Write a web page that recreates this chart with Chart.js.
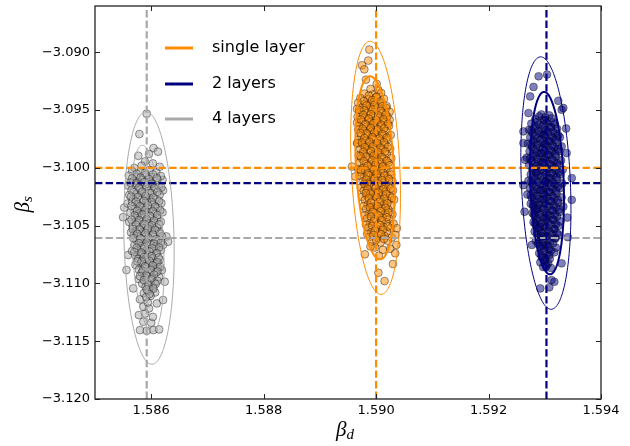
<!DOCTYPE html>
<html>
<head>
<meta charset="utf-8">
<title>beta_d vs beta_s</title>
<script src="https://cdn.jsdelivr.net/npm/chart.js@4.4.1/dist/chart.umd.min.js"></script>
<style>
  html, body { margin: 0; padding: 0; background: #fff; }
  canvas { display: block; }
</style>
</head>
<body>
<canvas id="beta-chart" width="630" height="446"></canvas>
<script>
// axis limits and ticks
const betaDMin = 1.585;
const betaDMax = 1.594;
const betaDStep = 0.002;
const betaSMin = -3.120;
const betaSMax = -3.086;
const betaSStep = 0.005;

const layerLabels = ["single layer", "2 layers", "4 layers"];

// input (true) values, drawn as dashed lines
const refBetaD = [1.59000, 1.59303, 1.58592];
const refBetaS = [-3.10000, -3.10133, -3.10607];

// confidence ellipses: layer index, centre, half extents and shear (data units)
const ellLayer = [2, 2, 0, 0, 1, 1];
const ellCenterD = [1.58596, 1.58593, 1.58999, 1.58998, 1.59302, 1.59304];
const ellCenterS = [-3.10607, -3.10611, -3.10000, -3.10000, -3.10132, -3.10132];
const ellHalfD = [0.000445, 0.000285, 0.000432, 0.000338, 0.000436, 0.000297];
const ellHalfS = [0.01092, 0.00806, 0.01095, 0.00792, 0.01092, 0.00789];
const ellShearD = [-0.000052, -0.000089, -0.000098, -0.000089, -0.000093, -0.000052];
const ellInner = [false, true, false, true, false, true];

// fitted samples [beta_d, beta_s]
const singleLayerFits = [
  [1.58988,-3.08977],[1.58986,-3.09072],[1.58975,-3.09113],[1.58979,-3.09148],[1.58982,-3.09237],[1.59001,-3.09274],
  [1.59019,-3.09468],[1.59024,-3.09584],[1.58966,-3.09786],[1.58957,-3.09989],[1.58963,-3.10075],
  [1.58990,-3.09318],[1.59004,-3.09327],
  [1.58979,-3.09358],[1.58994,-3.09366],[1.59009,-3.09352],
  [1.58972,-3.09397],[1.58986,-3.09406],[1.59000,-3.09391],[1.59014,-3.09403],
  [1.58968,-3.09438],[1.58981,-3.09446],[1.58996,-3.09432],[1.59010,-3.09445],[1.58989,-3.09452],
  [1.58975,-3.09478],[1.58990,-3.09486],[1.59004,-3.09471],[1.59018,-3.09483],[1.58966,-3.09491],
  [1.58971,-3.09518],[1.58985,-3.09526],[1.58998,-3.09512],[1.59012,-3.09524],[1.59024,-3.09516],
  [1.58967,-3.09559],[1.58980,-3.09566],[1.58994,-3.09551],[1.59007,-3.09563],[1.58987,-3.09574],[1.59020,-3.09557],
  [1.58974,-3.09598],[1.58989,-3.09606],[1.59002,-3.09592],[1.59015,-3.09603],[1.58966,-3.09611],
  [1.58970,-3.09638],[1.58983,-3.09646],[1.58997,-3.09631],[1.59010,-3.09644],[1.59023,-3.09636],[1.58991,-3.09652],
  [1.58977,-3.09678],[1.58992,-3.09686],[1.59005,-3.09671],[1.59017,-3.09683],[1.58968,-3.09669],
  [1.58973,-3.09718],[1.58986,-3.09726],[1.59000,-3.09711],[1.59013,-3.09724],[1.59026,-3.09716],[1.58994,-3.09732],
  [1.58969,-3.09758],[1.58981,-3.09766],[1.58995,-3.09751],[1.59008,-3.09763],[1.59020,-3.09755],
  [1.58976,-3.09798],[1.58990,-3.09806],[1.59003,-3.09791],[1.59016,-3.09803],[1.58984,-3.09812],[1.58967,-3.09788],
  [1.58972,-3.09838],[1.58986,-3.09846],[1.58999,-3.09831],[1.59012,-3.09844],[1.59025,-3.09836],
  [1.58978,-3.09878],[1.58993,-3.09886],[1.59006,-3.09871],[1.59019,-3.09883],[1.58969,-3.09892],[1.58999,-3.09895],
  [1.58974,-3.09918],[1.58988,-3.09926],[1.59001,-3.09911],[1.59014,-3.09924],[1.59027,-3.09915],
  [1.58970,-3.09958],[1.58983,-3.09966],[1.58997,-3.09951],[1.59010,-3.09963],[1.59022,-3.09956],[1.58991,-3.09972],
  [1.58977,-3.09998],[1.58991,-3.10006],[1.59005,-3.09991],[1.59018,-3.10003],[1.58968,-3.10011],
  [1.58973,-3.10038],[1.58987,-3.10046],[1.59000,-3.10031],[1.59013,-3.10044],[1.59026,-3.10035],[1.58995,-3.10053],
  [1.58979,-3.10078],[1.58994,-3.10086],[1.59008,-3.10071],[1.59021,-3.10083],[1.58971,-3.10069],
  [1.58976,-3.10118],[1.58990,-3.10126],[1.59003,-3.10111],[1.59016,-3.10124],[1.59029,-3.10115],[1.58984,-3.10132],
  [1.58981,-3.10158],[1.58996,-3.10166],[1.59010,-3.10151],[1.59022,-3.10163],[1.58973,-3.10171],
  [1.58978,-3.10198],[1.58992,-3.10206],[1.59005,-3.10191],[1.59018,-3.10203],[1.59030,-3.10196],[1.58999,-3.10212],
  [1.58983,-3.10238],[1.58998,-3.10246],[1.59012,-3.10231],[1.59025,-3.10243],[1.58975,-3.10251],
  [1.58980,-3.10278],[1.58994,-3.10286],[1.59007,-3.10271],[1.59020,-3.10284],[1.59032,-3.10275],
  [1.58985,-3.10318],[1.59000,-3.10326],[1.59014,-3.10311],[1.59027,-3.10323],[1.58978,-3.10331],[1.58993,-3.10337],
  [1.58982,-3.10358],[1.58996,-3.10366],[1.59009,-3.10351],[1.59022,-3.10363],
  [1.58987,-3.10398],[1.59002,-3.10406],[1.59016,-3.10391],[1.59029,-3.10403],[1.58980,-3.10411],
  [1.58984,-3.10438],[1.58998,-3.10446],[1.59011,-3.10431],[1.59024,-3.10444],
  [1.58989,-3.10478],[1.59004,-3.10486],[1.59018,-3.10471],[1.59031,-3.10483],[1.58982,-3.10491],
  [1.58986,-3.10518],[1.59000,-3.10526],[1.59013,-3.10511],[1.59026,-3.10523],
  [1.58991,-3.10558],[1.59006,-3.10566],[1.59019,-3.10551],[1.58984,-3.10571],
  [1.58988,-3.10598],[1.59002,-3.10606],[1.59015,-3.10591],[1.59028,-3.10603],
  [1.58993,-3.10638],[1.59008,-3.10646],[1.59021,-3.10631],
  [1.59037,-3.10523],[1.59034,-3.10581],[1.59036,-3.10667],[1.58998,-3.10690],[1.59012,-3.10710],[1.58990,-3.10680],
  [1.59025,-3.10700],[1.59005,-3.10760],[1.58980,-3.10748],[1.59034,-3.10739],[1.59030,-3.10832],[1.59004,-3.10908],
  [1.59015,-3.10980],
  [1.58987,-3.09376],[1.59001,-3.09385],
  [1.58978,-3.09422],[1.58993,-3.09413],[1.59007,-3.09427],
  [1.58983,-3.09461],[1.58997,-3.09455],[1.59011,-3.09467],
  [1.58979,-3.09502],[1.58994,-3.09495],[1.59008,-3.09507],[1.58970,-3.09499],
  [1.58977,-3.09542],[1.58991,-3.09535],[1.59004,-3.09547],[1.59017,-3.09539],
  [1.58973,-3.09582],[1.58987,-3.09575],[1.59001,-3.09587],[1.59013,-3.09579],
  [1.58981,-3.09622],[1.58995,-3.09615],[1.59009,-3.09627],[1.59021,-3.09619],
  [1.58976,-3.09662],[1.58990,-3.09655],[1.59003,-3.09667],[1.59014,-3.09659],
  [1.58983,-3.09702],[1.58997,-3.09695],[1.59011,-3.09707],[1.58972,-3.09699],
  [1.58979,-3.09742],[1.58993,-3.09735],[1.59006,-3.09747],[1.59019,-3.09739],
  [1.58975,-3.09782],[1.58988,-3.09775],[1.59002,-3.09787],[1.59014,-3.09779],
  [1.58980,-3.09822],[1.58994,-3.09815],[1.59008,-3.09827],[1.59021,-3.09819],
  [1.58977,-3.09862],[1.58991,-3.09855],[1.59004,-3.09867],[1.59016,-3.09859],
  [1.58982,-3.09902],[1.58996,-3.09895],[1.59010,-3.09907],[1.58972,-3.09899],
  [1.58978,-3.09942],[1.58993,-3.09935],[1.59006,-3.09947],[1.59019,-3.09939],
  [1.58985,-3.09982],[1.58999,-3.09975],[1.59012,-3.09987],[1.59024,-3.09979],
  [1.58981,-3.10022],[1.58996,-3.10015],[1.59009,-3.10027],[1.58973,-3.10019],
  [1.58986,-3.10062],[1.59001,-3.10055],[1.59015,-3.10067],[1.59027,-3.10059],
  [1.58983,-3.10102],[1.58997,-3.10095],[1.59011,-3.10107],[1.59023,-3.10099],
  [1.58988,-3.10142],[1.59003,-3.10135],[1.59017,-3.10147],[1.58979,-3.10139],
  [1.58985,-3.10182],[1.58999,-3.10175],[1.59013,-3.10187],[1.59026,-3.10179],
  [1.58990,-3.10222],[1.59004,-3.10215],[1.59018,-3.10227],[1.58982,-3.10219],
  [1.58987,-3.10262],[1.59001,-3.10255],[1.59015,-3.10267],[1.59028,-3.10259],
  [1.58991,-3.10302],[1.59006,-3.10295],[1.59020,-3.10307],
  [1.58989,-3.10342],[1.59003,-3.10335],[1.59017,-3.10347],
  [1.58994,-3.10382],[1.59008,-3.10375],[1.59022,-3.10387],
  [1.58991,-3.10422],[1.59005,-3.10415],[1.59019,-3.10427],
  [1.58996,-3.10462],[1.59010,-3.10455],
  [1.58993,-3.10502],[1.59007,-3.10495],[1.59021,-3.10507],
  [1.58998,-3.10542],[1.59012,-3.10535],
  [1.58995,-3.10582],[1.59009,-3.10575],
  [1.59000,-3.10622],[1.59014,-3.10615]
];

const twoLayerFits = [
  [1.59289,-3.09208],[1.59304,-3.09193],[1.59280,-3.09300],[1.59274,-3.09382],[1.59324,-3.09420],[1.59333,-3.09482],
  [1.59271,-3.09526],[1.59330,-3.09497],[1.59338,-3.09660],[1.59262,-3.09685],[1.59262,-3.09786],[1.59339,-3.09872],
  [1.59265,-3.09930],[1.59348,-3.10089],[1.59262,-3.10150],[1.59348,-3.10277],[1.59264,-3.10380],[1.59340,-3.10430],
  [1.59341,-3.10600],[1.59277,-3.10667],[1.59330,-3.10826],[1.59302,-3.10856],[1.59312,-3.10971],[1.59317,-3.10986],
  [1.59308,-3.11034],[1.59292,-3.11043],
  [1.59294,-3.09538],[1.59308,-3.09546],
  [1.59283,-3.09578],[1.59298,-3.09586],[1.59312,-3.09572],
  [1.59276,-3.09618],[1.59290,-3.09626],[1.59304,-3.09611],[1.59318,-3.09623],
  [1.59281,-3.09658],[1.59295,-3.09666],[1.59309,-3.09651],[1.59322,-3.09663],[1.59272,-3.09671],
  [1.59278,-3.09698],[1.59292,-3.09706],[1.59305,-3.09691],[1.59318,-3.09703],[1.59299,-3.09712],
  [1.59274,-3.09738],[1.59287,-3.09746],[1.59301,-3.09731],[1.59314,-3.09743],[1.59327,-3.09735],
  [1.59280,-3.09778],[1.59294,-3.09786],[1.59308,-3.09771],[1.59321,-3.09783],[1.59270,-3.09791],[1.59301,-3.09794],
  [1.59277,-3.09818],[1.59291,-3.09826],[1.59304,-3.09811],[1.59317,-3.09823],[1.59330,-3.09815],
  [1.59273,-3.09858],[1.59286,-3.09866],[1.59300,-3.09851],[1.59313,-3.09863],[1.59326,-3.09856],[1.59295,-3.09872],
  [1.59279,-3.09898],[1.59293,-3.09906],[1.59307,-3.09891],[1.59320,-3.09903],[1.59268,-3.09911],
  [1.59276,-3.09938],[1.59289,-3.09946],[1.59303,-3.09931],[1.59316,-3.09943],[1.59329,-3.09936],[1.59297,-3.09952],
  [1.59272,-3.09978],[1.59285,-3.09986],[1.59299,-3.09971],[1.59312,-3.09983],[1.59325,-3.09975],
  [1.59278,-3.10018],[1.59292,-3.10026],[1.59306,-3.10011],[1.59319,-3.10023],[1.59332,-3.10015],[1.59284,-3.10034],
  [1.59275,-3.10058],[1.59288,-3.10066],[1.59302,-3.10051],[1.59315,-3.10063],[1.59328,-3.10056],
  [1.59281,-3.10098],[1.59295,-3.10106],[1.59309,-3.10091],[1.59322,-3.10103],[1.59271,-3.10111],[1.59302,-3.10114],
  [1.59278,-3.10138],[1.59292,-3.10146],[1.59305,-3.10131],[1.59318,-3.10143],[1.59331,-3.10135],
  [1.59274,-3.10178],[1.59287,-3.10186],[1.59301,-3.10171],[1.59314,-3.10183],[1.59327,-3.10176],[1.59296,-3.10192],
  [1.59280,-3.10218],[1.59294,-3.10226],[1.59308,-3.10211],[1.59321,-3.10223],[1.59269,-3.10231],
  [1.59277,-3.10258],[1.59290,-3.10266],[1.59304,-3.10251],[1.59317,-3.10263],[1.59330,-3.10255],[1.59298,-3.10272],
  [1.59283,-3.10298],[1.59297,-3.10306],[1.59311,-3.10291],[1.59324,-3.10303],[1.59275,-3.10311],
  [1.59280,-3.10338],[1.59294,-3.10346],[1.59307,-3.10331],[1.59320,-3.10343],[1.59333,-3.10335],[1.59287,-3.10352],
  [1.59285,-3.10378],[1.59299,-3.10386],[1.59313,-3.10371],[1.59326,-3.10383],[1.59278,-3.10391],
  [1.59282,-3.10418],[1.59296,-3.10426],[1.59309,-3.10411],[1.59322,-3.10423],[1.59303,-3.10432],
  [1.59287,-3.10458],[1.59301,-3.10466],[1.59315,-3.10451],[1.59328,-3.10463],[1.59280,-3.10471],
  [1.59284,-3.10498],[1.59298,-3.10506],[1.59311,-3.10491],[1.59324,-3.10503],[1.59291,-3.10512],
  [1.59289,-3.10538],[1.59303,-3.10546],[1.59317,-3.10531],[1.59282,-3.10551],
  [1.59286,-3.10578],[1.59300,-3.10586],[1.59313,-3.10571],[1.59326,-3.10583],[1.59294,-3.10592],
  [1.59291,-3.10618],[1.59305,-3.10626],[1.59319,-3.10611],[1.59284,-3.10631],
  [1.59288,-3.10658],[1.59302,-3.10666],[1.59315,-3.10651],[1.59296,-3.10672],
  [1.59293,-3.10698],[1.59307,-3.10706],[1.59320,-3.10691],
  [1.59290,-3.10738],[1.59304,-3.10746],[1.59317,-3.10731],
  [1.59295,-3.10778],[1.59309,-3.10786],[1.59301,-3.10792],
  [1.59292,-3.10818],[1.59306,-3.10826],
  [1.59297,-3.10858],[1.59311,-3.10866],
  [1.59301,-3.09562],[1.59290,-3.09555],
  [1.59287,-3.09602],[1.59301,-3.09595],[1.59315,-3.09607],
  [1.59283,-3.09642],[1.59297,-3.09635],[1.59311,-3.09647],
  [1.59288,-3.09682],[1.59302,-3.09675],[1.59315,-3.09687],[1.59276,-3.09679],
  [1.59284,-3.09722],[1.59298,-3.09715],[1.59312,-3.09727],[1.59324,-3.09719],
  [1.59280,-3.09762],[1.59294,-3.09755],[1.59307,-3.09767],[1.59319,-3.09759],
  [1.59286,-3.09802],[1.59300,-3.09795],[1.59314,-3.09807],[1.59276,-3.09799],
  [1.59283,-3.09842],[1.59297,-3.09835],[1.59311,-3.09847],[1.59324,-3.09839],
  [1.59280,-3.09882],[1.59293,-3.09875],[1.59306,-3.09887],[1.59319,-3.09879],
  [1.59286,-3.09922],[1.59300,-3.09915],[1.59313,-3.09927],[1.59274,-3.09919],
  [1.59282,-3.09962],[1.59296,-3.09955],[1.59309,-3.09967],[1.59322,-3.09959],
  [1.59279,-3.10002],[1.59292,-3.09995],[1.59305,-3.10007],[1.59318,-3.09999],
  [1.59285,-3.10042],[1.59299,-3.10035],[1.59312,-3.10047],[1.59325,-3.10039],
  [1.59281,-3.10082],[1.59295,-3.10075],[1.59308,-3.10087],[1.59321,-3.10079],
  [1.59287,-3.10122],[1.59301,-3.10115],[1.59315,-3.10127],[1.59276,-3.10119],
  [1.59284,-3.10162],[1.59298,-3.10155],[1.59311,-3.10167],[1.59324,-3.10159],
  [1.59280,-3.10202],[1.59293,-3.10195],[1.59307,-3.10207],[1.59320,-3.10199],
  [1.59286,-3.10242],[1.59300,-3.10235],[1.59314,-3.10247],[1.59275,-3.10239],
  [1.59283,-3.10282],[1.59297,-3.10275],[1.59310,-3.10287],[1.59323,-3.10279],
  [1.59288,-3.10322],[1.59302,-3.10315],[1.59316,-3.10327],[1.59279,-3.10319],
  [1.59285,-3.10362],[1.59299,-3.10355],[1.59313,-3.10367],[1.59326,-3.10359],
  [1.59290,-3.10402],[1.59304,-3.10395],[1.59318,-3.10407],[1.59281,-3.10399],
  [1.59287,-3.10442],[1.59301,-3.10435],[1.59315,-3.10447],
  [1.59292,-3.10482],[1.59306,-3.10475],[1.59320,-3.10487],[1.59283,-3.10479],
  [1.59289,-3.10522],[1.59303,-3.10515],[1.59317,-3.10527],
  [1.59294,-3.10562],[1.59308,-3.10555],[1.59322,-3.10567],
  [1.59291,-3.10602],[1.59305,-3.10595],[1.59318,-3.10607],
  [1.59296,-3.10642],[1.59310,-3.10635],
  [1.59292,-3.10682],[1.59306,-3.10675],
  [1.59298,-3.10722],[1.59311,-3.10715],
  [1.59294,-3.10762],[1.59308,-3.10755],
  [1.59300,-3.10802],[1.59303,-3.10842]
];

const fourLayerFits = [
  [1.58592,-3.09532],[1.58579,-3.09708],[1.58604,-3.09829],[1.58596,-3.09881],[1.58577,-3.09896],[1.58612,-3.09860],
  [1.58589,-3.09945],[1.58583,-3.09982],[1.58603,-3.09962],[1.58570,-3.10001],[1.58615,-3.09991],
  [1.58552,-3.10344],[1.58550,-3.10427],[1.58620,-3.10104],[1.58627,-3.10594],[1.58630,-3.10639],[1.58559,-3.10754],
  [1.58556,-3.10884],[1.58619,-3.10884],[1.58568,-3.11043],[1.58624,-3.10985],
  [1.58580,-3.11404],[1.58592,-3.11410],[1.58604,-3.11404],[1.58614,-3.11398],[1.58586,-3.11332],[1.58600,-3.11341],
  [1.58578,-3.11274],[1.58589,-3.11260],[1.58586,-3.11202],[1.58596,-3.11216],[1.58610,-3.11173],[1.58580,-3.11138],
  [1.58621,-3.11144],[1.58603,-3.11290],[1.58594,-3.11165],
  [1.58566,-3.10028],[1.58581,-3.10035],[1.58597,-3.10019],[1.58609,-3.10041],
  [1.58560,-3.10069],[1.58574,-3.10078],[1.58590,-3.10062],[1.58604,-3.10083],[1.58617,-3.10071],
  [1.58568,-3.10115],[1.58584,-3.10107],[1.58598,-3.10121],[1.58611,-3.10102],[1.58577,-3.10126],
  [1.58559,-3.10153],[1.58572,-3.10146],[1.58588,-3.10158],[1.58602,-3.10141],[1.58614,-3.10162],[1.58594,-3.10135],
  [1.58565,-3.10194],[1.58580,-3.10186],[1.58595,-3.10199],[1.58608,-3.10181],[1.58621,-3.10196],
  [1.58561,-3.10235],[1.58574,-3.10224],[1.58589,-3.10238],[1.58601,-3.10221],[1.58615,-3.10232],[1.58583,-3.10214],
  [1.58568,-3.10268],[1.58582,-3.10279],[1.58596,-3.10262],[1.58610,-3.10274],[1.58592,-3.10285],
  [1.58558,-3.10309],[1.58575,-3.10316],[1.58590,-3.10301],[1.58604,-3.10318],[1.58618,-3.10305],[1.58566,-3.10296],
  [1.58571,-3.10354],[1.58585,-3.10342],[1.58599,-3.10357],[1.58612,-3.10346],[1.58579,-3.10363],
  [1.58563,-3.10388],[1.58578,-3.10397],[1.58593,-3.10382],[1.58607,-3.10394],[1.58620,-3.10385],[1.58587,-3.10402],
  [1.58569,-3.10428],[1.58584,-3.10436],[1.58598,-3.10421],[1.58611,-3.10439],[1.58575,-3.10418],
  [1.58561,-3.10469],[1.58576,-3.10476],[1.58591,-3.10462],[1.58605,-3.10478],[1.58617,-3.10466],[1.58596,-3.10484],
  [1.58567,-3.10508],[1.58582,-3.10517],[1.58597,-3.10503],[1.58610,-3.10515],[1.58588,-3.10522],
  [1.58572,-3.10548],[1.58586,-3.10556],[1.58601,-3.10541],[1.58614,-3.10553],[1.58564,-3.10560],[1.58593,-3.10537],
  [1.58577,-3.10589],[1.58590,-3.10597],[1.58604,-3.10584],[1.58619,-3.10593],[1.58569,-3.10581],
  [1.58574,-3.10628],[1.58588,-3.10636],[1.58600,-3.10622],[1.58612,-3.10639],[1.58581,-3.10645],[1.58595,-3.10618],
  [1.58570,-3.10668],[1.58584,-3.10676],[1.58598,-3.10662],[1.58609,-3.10679],[1.58621,-3.10667],
  [1.58576,-3.10709],[1.58591,-3.10716],[1.58605,-3.10703],[1.58617,-3.10714],[1.58583,-3.10698],[1.58566,-3.10720],
  [1.58580,-3.10748],[1.58594,-3.10756],[1.58608,-3.10742],[1.58573,-3.10761],[1.58600,-3.10764],
  [1.58577,-3.10789],[1.58590,-3.10796],[1.58603,-3.10782],[1.58615,-3.10793],[1.58584,-3.10803],
  [1.58581,-3.10828],[1.58596,-3.10836],[1.58609,-3.10822],[1.58572,-3.10840],[1.58602,-3.10845],
  [1.58586,-3.10869],[1.58599,-3.10876],[1.58612,-3.10862],[1.58578,-3.10881],
  [1.58583,-3.10908],[1.58597,-3.10916],[1.58609,-3.10903],[1.58591,-3.10925],
  [1.58588,-3.10949],[1.58601,-3.10956],[1.58578,-3.10962],[1.58614,-3.10944],
  [1.58593,-3.10988],[1.58606,-3.10996],[1.58584,-3.11003],
  [1.58590,-3.11029],[1.58603,-3.11036],[1.58596,-3.11048],
  [1.58594,-3.11069],[1.58607,-3.11078],[1.58587,-3.11085],
  [1.58599,-3.11108],[1.58591,-3.11118],
  [1.58574,-3.10052],[1.58589,-3.10045],[1.58603,-3.10057],
  [1.58566,-3.10092],[1.58581,-3.10085],[1.58596,-3.10097],[1.58610,-3.10089],
  [1.58573,-3.10132],[1.58587,-3.10125],[1.58601,-3.10137],[1.58563,-3.10129],
  [1.58578,-3.10172],[1.58592,-3.10165],[1.58606,-3.10177],[1.58618,-3.10169],
  [1.58569,-3.10212],[1.58584,-3.10205],[1.58598,-3.10217],[1.58611,-3.10209],
  [1.58576,-3.10252],[1.58590,-3.10245],[1.58604,-3.10257],[1.58564,-3.10249],
  [1.58573,-3.10292],[1.58587,-3.10285],[1.58601,-3.10297],[1.58614,-3.10289],
  [1.58580,-3.10332],[1.58594,-3.10325],[1.58607,-3.10337],[1.58565,-3.10329],
  [1.58575,-3.10372],[1.58589,-3.10365],[1.58603,-3.10377],[1.58616,-3.10369],
  [1.58570,-3.10412],[1.58584,-3.10405],[1.58598,-3.10417],[1.58611,-3.10409],
  [1.58578,-3.10452],[1.58592,-3.10445],[1.58605,-3.10457],[1.58565,-3.10449],
  [1.58573,-3.10492],[1.58587,-3.10485],[1.58601,-3.10497],[1.58614,-3.10489],
  [1.58579,-3.10532],[1.58594,-3.10525],[1.58607,-3.10537],[1.58567,-3.10529],
  [1.58575,-3.10572],[1.58590,-3.10565],[1.58603,-3.10577],[1.58616,-3.10569],
  [1.58581,-3.10612],[1.58595,-3.10605],[1.58609,-3.10617],[1.58568,-3.10609],
  [1.58578,-3.10652],[1.58592,-3.10645],[1.58605,-3.10657],[1.58617,-3.10649],
  [1.58574,-3.10692],[1.58588,-3.10685],[1.58602,-3.10697],[1.58614,-3.10689],
  [1.58582,-3.10732],[1.58597,-3.10725],[1.58610,-3.10737],[1.58570,-3.10729],
  [1.58587,-3.10772],[1.58601,-3.10765],[1.58613,-3.10777],
  [1.58583,-3.10812],[1.58597,-3.10805],[1.58611,-3.10817],[1.58575,-3.10809],
  [1.58589,-3.10852],[1.58603,-3.10845],[1.58616,-3.10857],
  [1.58585,-3.10892],[1.58599,-3.10885],[1.58611,-3.10897],
  [1.58591,-3.10932],[1.58605,-3.10925],[1.58580,-3.10937],
  [1.58587,-3.10972],[1.58600,-3.10965],[1.58611,-3.10977],
  [1.58595,-3.11012],[1.58608,-3.11005],
  [1.58592,-3.11052],[1.58604,-3.11045],
  [1.58597,-3.11092]
];

// styles
const layerColors = ["#ff8c00", "#000080", "#a9a9a9"];
const layerFills = ["rgba(255,140,0,0.5)", "rgba(0,0,128,0.5)", "rgba(169,169,169,0.5)"];
const frameColor = "#222";

function formatTick(value) {
  const text = Math.abs(value).toFixed(3);
  return value < 0 ? "\u2212" + text : text;
}

function toPoints(pairs) {
  return pairs.map((p) => ({ x: p[0], y: p[1] }));
}

function dashedLineDatasets() {
  const sets = [];
  for (let i = 0; i < layerLabels.length; i++) {
    const style = {
      showLine: true,
      pointRadius: 0,
      borderColor: layerColors[i],
      borderWidth: 2.2,
      borderDash: [7.4, 3.2],
      fill: false,
    };
    sets.push({
      ...style,
      label: layerLabels[i] + " d",
      data: [
        { x: refBetaD[i], y: betaSMin },
        { x: refBetaD[i], y: betaSMax },
      ],
    });
    sets.push({
      ...style,
      label: layerLabels[i] + " s",
      data: [
        { x: betaDMin, y: refBetaS[i] },
        { x: betaDMax, y: refBetaS[i] },
      ],
    });
  }
  return sets;
}

function scatterDataset(i, pairs) {
  return {
    label: layerLabels[i],
    data: toPoints(pairs),
    showLine: false,
    pointRadius: 3.9,
    pointBackgroundColor: layerFills[i],
    pointBorderColor: "rgba(0,0,0,0.5)",
    pointBorderWidth: 0.8,
  };
}

const ellipsePlugin = {
  id: "ellipses",
  afterDatasetsDraw(chart) {
    const { ctx, chartArea, scales } = chart;
    ctx.save();
    ctx.beginPath();
    ctx.rect(chartArea.left, chartArea.top, chartArea.width, chartArea.height);
    ctx.clip();
    for (let i = 0; i < ellLayer.length; i++) {
      const layer = ellLayer[i];
      ctx.beginPath();
      const steps = 180;
      for (let k = 0; k <= steps; k++) {
        const t = (k / steps) * Math.PI * 2;
        const d = ellCenterD[i] + ellHalfD[i] * Math.cos(t) + ellShearD[i] * Math.sin(t);
        const s = ellCenterS[i] + ellHalfS[i] * Math.sin(t);
        const px = scales.x.getPixelForValue(d);
        const py = scales.y.getPixelForValue(s);
        if (k === 0) ctx.moveTo(px, py);
        else ctx.lineTo(px, py);
      }
      ctx.strokeStyle = layerColors[layer];
      ctx.lineWidth = ellInner[i] && layer !== 2 ? 2 : 1;
      ctx.stroke();
    }
    ctx.restore();
  },
};

const framePlugin = {
  id: "frame",
  afterDraw(chart) {
    const { ctx, chartArea, scales } = chart;
    const { left, right, top, bottom } = chartArea;
    const tickLen = 5;
    ctx.save();
    ctx.strokeStyle = frameColor;
    ctx.lineWidth = 1;
    scales.x.ticks.forEach((tick) => {
      const px = Math.round(scales.x.getPixelForValue(tick.value)) + 0.5;
      ctx.beginPath();
      ctx.moveTo(px, bottom);
      ctx.lineTo(px, bottom - tickLen);
      ctx.moveTo(px, top);
      ctx.lineTo(px, top + tickLen);
      ctx.stroke();
    });
    scales.y.ticks.forEach((tick) => {
      const py = Math.round(scales.y.getPixelForValue(tick.value)) + 0.5;
      ctx.beginPath();
      ctx.moveTo(left, py);
      ctx.lineTo(left + tickLen, py);
      ctx.moveTo(right, py);
      ctx.lineTo(right - tickLen, py);
      ctx.stroke();
    });
    ctx.lineWidth = 1.3;
    ctx.strokeRect(left, top, right - left, bottom - top);

    // legend
    ctx.font = "16px 'DejaVu Sans'";
    ctx.textBaseline = "middle";
    ctx.textAlign = "left";
    const legendY = [48, 84, 119];
    for (let i = 0; i < layerLabels.length; i++) {
      ctx.beginPath();
      ctx.strokeStyle = layerColors[i];
      ctx.lineWidth = 3;
      ctx.moveTo(165, legendY[i]);
      ctx.lineTo(193, legendY[i]);
      ctx.stroke();
      ctx.fillStyle = "#000";
      ctx.fillText(layerLabels[i], 212, legendY[i]);
    }

    // axis titles
    ctx.fillStyle = "#000";
    ctx.textBaseline = "alphabetic";
    ctx.font = "italic 21px 'Liberation Serif'";
    const betaW = ctx.measureText("\u03b2").width;
    const xTitleLeft = (left + right) / 2 - 12;
    ctx.fillText("\u03b2", xTitleLeft, 436);
    ctx.font = "italic 15px 'Liberation Serif'";
    ctx.fillText("d", xTitleLeft + betaW, 439);

    ctx.translate(29, (top + bottom) / 2 + 10);
    ctx.rotate(-Math.PI / 2);
    ctx.font = "italic 21px 'Liberation Serif'";
    ctx.fillText("\u03b2", 0, 0);
    ctx.font = "italic 15px 'Liberation Serif'";
    ctx.fillText("s", betaW, 3);
    ctx.restore();
  },
};

new Chart(document.getElementById("beta-chart"), {
  type: "scatter",
  data: {
    datasets: [
      ...dashedLineDatasets(),
      scatterDataset(1, twoLayerFits),
      scatterDataset(0, singleLayerFits),
      scatterDataset(2, fourLayerFits),
    ],
  },
  options: {
    responsive: false,
    animation: false,
    events: [],
    layout: { padding: { top: 6, right: 29, left: 0, bottom: 0 } },
    plugins: {
      legend: { display: false },
      tooltip: { enabled: false },
    },
    scales: {
      x: {
        type: "linear",
        min: betaDMin,
        max: betaDMax,
        grid: { display: false, drawTicks: false },
        border: { display: false },
        ticks: {
          stepSize: betaDStep,
          includeBounds: false,
          padding: 4,
          color: "#000",
          font: { family: "DejaVu Sans", size: 13 },
          maxRotation: 0,
          callback: (value) => formatTick(value),
        },
        afterFit(scale) {
          scale.height = 47;
          scale.paddingLeft = 0;
          scale.paddingRight = 0;
        },
      },
      y: {
        type: "linear",
        min: betaSMin,
        max: betaSMax,
        grid: { display: false, drawTicks: false },
        border: { display: false },
        ticks: {
          stepSize: betaSStep,
          includeBounds: false,
          padding: 5,
          color: "#000",
          font: { family: "DejaVu Sans", size: 13 },
          callback: (value) => formatTick(value),
        },
        afterFit(scale) {
          scale.width = 95;
          scale.paddingTop = 0;
          scale.paddingBottom = 0;
        },
      },
    },
  },
  plugins: [ellipsePlugin, framePlugin],
});
</script>
</body>
</html>
